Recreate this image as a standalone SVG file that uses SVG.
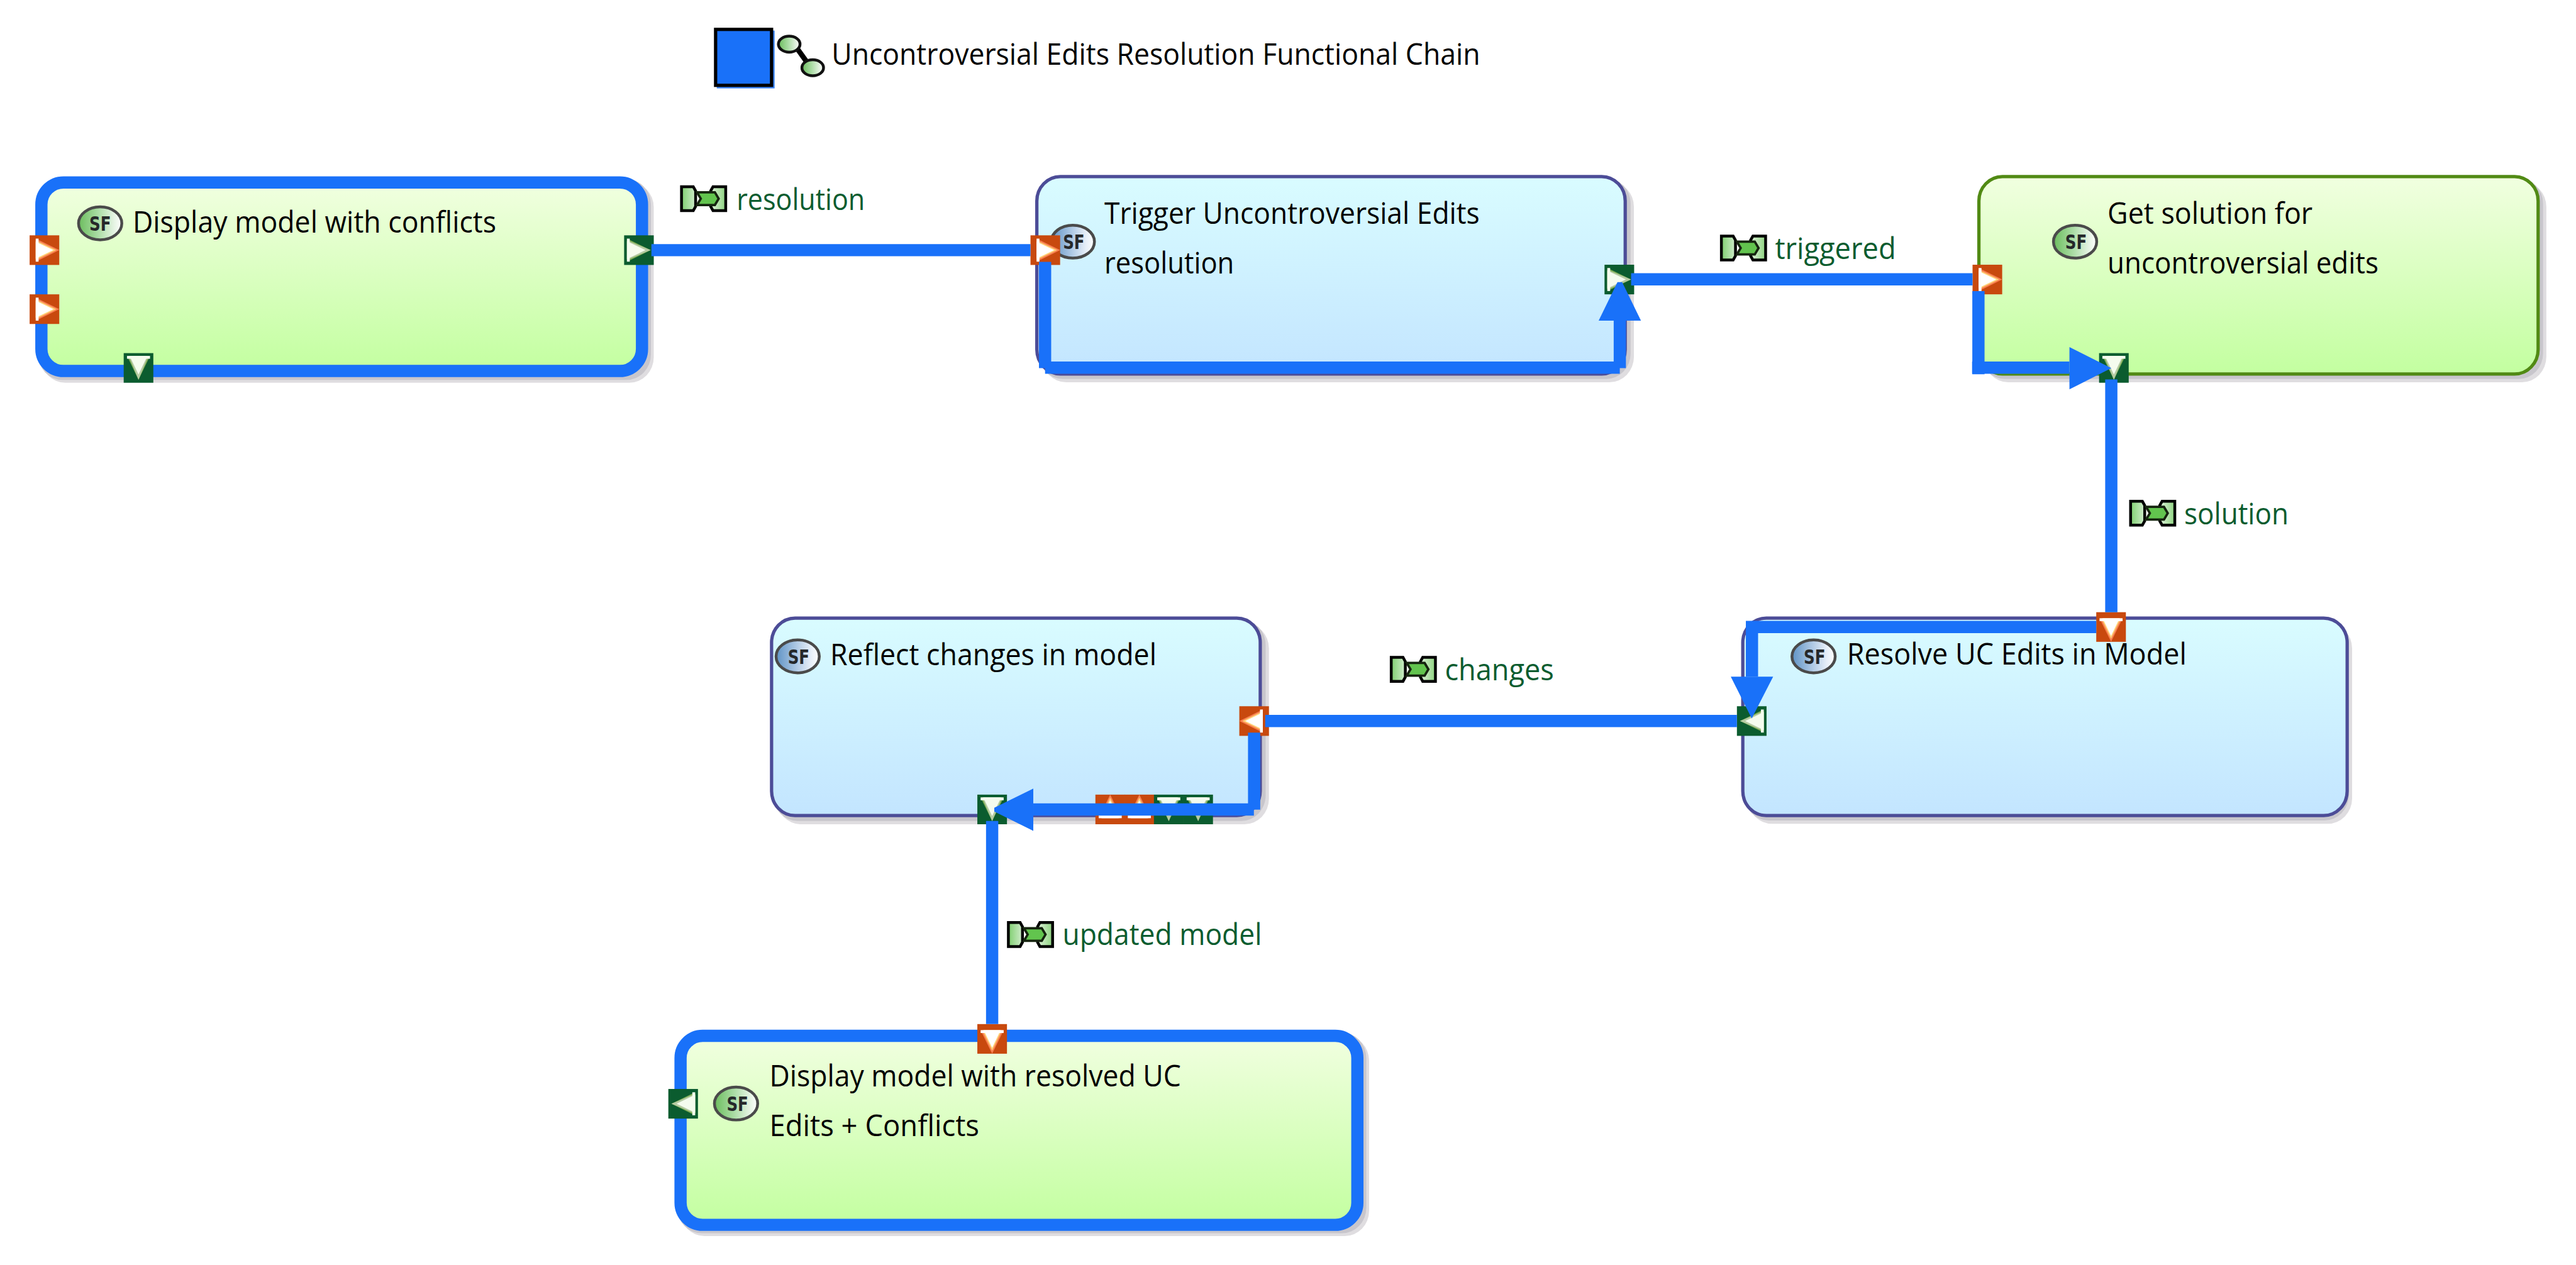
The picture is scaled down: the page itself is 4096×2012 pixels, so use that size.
<svg xmlns="http://www.w3.org/2000/svg" width="4096" height="2012" viewBox="0 0 4096 2012">
<style>
text{font-family:"Open Sans","Noto Sans","Liberation Sans",sans-serif;font-size:63px;font-weight:400;fill:#000}
.lbl{fill:#0b5c2f}
.sf{font-family:"DejaVu Sans",sans-serif;font-size:43px;font-weight:700;fill:#26282a}
.sh1{fill:#dfdde0;rx:52px;ry:54px}
.sh2{fill:#c8c6cc;rx:52px;ry:54px}
.blue{fill:url(#gb);stroke:#4c4c97;stroke-width:7;rx:50px;ry:52px}
.green{fill:url(#gg);stroke:#518a14;stroke-width:7;rx:50px;ry:52px}
.thick{fill:url(#gg);stroke:#1971f9;stroke-width:26;rx:47px;ry:47px}
.wire{fill:none;stroke:#1971f9;stroke-width:26;stroke-linecap:butt}
.head{fill:#1971f9}
</style>
<defs>
<linearGradient id="gb" x1="0" y1="0" x2="0" y2="1"><stop offset="0" stop-color="#d9fcff"/><stop offset="1" stop-color="#c3e5ff"/></linearGradient>
<linearGradient id="gg" x1="0" y1="0" x2="0" y2="1"><stop offset="0" stop-color="#f1ffe0"/><stop offset="1" stop-color="#c3ffa0"/></linearGradient>
<linearGradient id="ig" x1="0" y1="0" x2="1" y2="0"><stop offset="0" stop-color="#6cbd5e"/><stop offset=".45" stop-color="#aadca4"/><stop offset=".8" stop-color="#e2f2e0"/><stop offset="1" stop-color="#fff"/></linearGradient>
<linearGradient id="ib" x1="0" y1="0" x2="1" y2="0"><stop offset="0" stop-color="#5f93c5"/><stop offset=".45" stop-color="#abc6e3"/><stop offset=".8" stop-color="#e6eef8"/><stop offset="1" stop-color="#fff"/></linearGradient>
<linearGradient id="fl" x1="0" y1="0" x2="1" y2="0"><stop offset="0" stop-color="#7fcf70"/><stop offset="1" stop-color="#d0eccb"/></linearGradient>
<linearGradient id="fr" x1="0" y1="0" x2="1" y2="0"><stop offset="0" stop-color="#dff3db"/><stop offset="1" stop-color="#8dd37f"/></linearGradient>
<g id="po">
<rect x="-31.5" y="-31.5" width="63" height="63" fill="#c8490e"/>
<polygon points="-18.5,-24.5 31.5,0 -18.5,24.5" fill="#f98050"/>
<polygon points="-18.5,-21 25,0 -18.5,21" fill="#ffcf75"/>
<polygon points="-18.5,-18 19,0 -18.5,18" fill="#fff"/>
<rect x="-18.5" y="-24.5" width="6" height="49" fill="#fff"/>
</g>
<g id="pg">
<rect x="-31.5" y="-31.5" width="63" height="63" fill="#0b5c2f"/>
<polygon points="-25.5,-24.5 25,0 -25.5,24.5" fill="#7fae55"/>
<polygon points="-25.5,-21 25,0 -25.5,21" fill="#b5cba3"/>
<polygon points="-25.5,-19 14,0 -25.5,19" fill="#f5fcee"/>
<rect x="-25.5" y="-24.5" width="6" height="49" fill="#f5fcee"/>
</g>
<g id="ifl">
<polygon points="3,3 28,3 33,12 33,45 28,54 3,54" fill="url(#fl)" stroke="#000" stroke-width="6"/>
<polygon points="97,3 70,3 65,12 65,45 70,54 97,54" fill="url(#fr)" stroke="#000" stroke-width="6"/>
<polygon points="36,15 74,15 82,28.5 74,42 36,42 44,28.5" fill="#62c44e" stroke="#15240f" stroke-width="5"/>
</g>
<ellipse id="isg" rx="46" ry="35" fill="url(#ig)" stroke="#4a4a4a" stroke-width="6"/>
<ellipse id="isb" rx="46" ry="35" fill="url(#ib)" stroke="#4a4a4a" stroke-width="6"/>
</defs>
<rect width="4096" height="2012" fill="#fff"/>
<g transform="scale(0.74785)">

<g id="chain-title">
<rect x="1524" y="65" width="123" height="123" fill="#3a86fb"/>
<rect x="1521.5" y="62.5" width="119" height="119" fill="#1971f9" stroke="#000" stroke-width="7"/>
<line x1="1697" y1="106" x2="1714" y2="130" stroke="#000" stroke-width="11"/>
<ellipse cx="1678" cy="94" rx="23" ry="17" fill="url(#ig)" stroke="#111" stroke-width="6"/>
<ellipse cx="1728" cy="144" rx="23" ry="17" fill="url(#ig)" stroke="#111" stroke-width="6"/>
<text x="1768" y="138" textLength="1379" lengthAdjust="spacingAndGlyphs">Uncontroversial Edits Resolution Functional Chain</text>
</g>

<g id="node-display-conflicts">
<rect class="sh1" x="87" y="387" width="1303" height="427"/>
<rect class="sh2" x="81" y="381" width="1303" height="427"/>
<rect class="thick" x="88" y="388" width="1277" height="401"/>
<use href="#isg" x="213" y="475"/>
<text class="sf" x="213" y="491" text-anchor="middle" textLength="46" lengthAdjust="spacingAndGlyphs">SF</text>
<text x="282" y="495" textLength="773" lengthAdjust="spacingAndGlyphs">Display model with conflicts</text>
<use href="#po" transform="translate(94.5,532)"/>
<use href="#po" transform="translate(94.5,657.5)"/>
<use href="#pg" transform="translate(1358.5,532)"/>
<use href="#pg" transform="translate(294.5,782.5) rotate(90)"/>
</g>

<g id="node-trigger">
<rect class="sh1" x="2215" y="386" width="1259" height="427"/>
<rect class="sh2" x="2208" y="379" width="1259" height="427"/>
<rect class="blue" x="2204.5" y="375.5" width="1251" height="420"/>
<use href="#isb" x="2281" y="514"/>
<text class="sf" x="2283" y="530" text-anchor="middle" textLength="46" lengthAdjust="spacingAndGlyphs">SF</text>
<text x="2348" y="476" textLength="798" lengthAdjust="spacingAndGlyphs">Trigger Uncontroversial Edits</text>
<text x="2348" y="582" textLength="276" lengthAdjust="spacingAndGlyphs">resolution</text>
<use href="#po" transform="translate(2222.5,532)"/>
<use href="#pg" transform="translate(3443,594.5)"/>
</g>

<g id="node-get-solution">
<rect class="sh1" x="4218" y="386" width="1196" height="427"/>
<rect class="sh2" x="4211" y="379" width="1196" height="427"/>
<rect class="green" x="4207.5" y="375.5" width="1189" height="420"/>
<use href="#isg" x="4412" y="514"/>
<text class="sf" x="4414" y="530" text-anchor="middle" textLength="46" lengthAdjust="spacingAndGlyphs">SF</text>
<text x="4481" y="476" textLength="436" lengthAdjust="spacingAndGlyphs">Get solution for</text>
<text x="4481" y="582" textLength="576" lengthAdjust="spacingAndGlyphs">uncontroversial edits</text>
<use href="#po" transform="translate(4225.5,594.5)"/>
<use href="#pg" transform="translate(4494.5,782.5) rotate(90)"/>
</g>

<g id="node-resolve">
<rect class="sh1" x="3716" y="1325" width="1285" height="427"/>
<rect class="sh2" x="3709" y="1318" width="1285" height="427"/>
<rect class="blue" x="3705.5" y="1314.5" width="1285" height="420"/>
<use href="#isb" x="3856" y="1396"/>
<text class="sf" x="3858" y="1412" text-anchor="middle" textLength="46" lengthAdjust="spacingAndGlyphs">SF</text>
<text x="3927" y="1414" textLength="722" lengthAdjust="spacingAndGlyphs">Resolve UC Edits in Model</text>
<use href="#po" transform="translate(4488.5,1333.5) rotate(90)"/>
<use href="#pg" transform="translate(3724.5,1533.5) rotate(180)"/>
</g>

<g id="node-reflect">
<rect class="sh1" x="1651" y="1325" width="1047" height="428"/>
<rect class="sh2" x="1644" y="1318" width="1047" height="428"/>
<rect class="blue" x="1640.5" y="1314.5" width="1039" height="420"/>
<use href="#isb" x="1696" y="1396"/>
<text class="sf" x="1698" y="1412" text-anchor="middle" textLength="46" lengthAdjust="spacingAndGlyphs">SF</text>
<text x="1765" y="1415" textLength="694" lengthAdjust="spacingAndGlyphs">Reflect changes in model</text>
<use href="#po" transform="translate(2666.5,1533.5) rotate(180)"/>
<use href="#pg" transform="translate(2109.5,1721.5) rotate(90)"/>
<use href="#po" transform="translate(2360.5,1721.5) rotate(-90)"/>
<use href="#po" transform="translate(2422.5,1721.5) rotate(-90)"/>
<use href="#pg" transform="translate(2485,1721.5) rotate(90)"/>
<use href="#pg" transform="translate(2547.5,1721.5) rotate(90)"/>
</g>

<g id="node-display-resolved">
<rect class="sh1" x="1446" y="2202" width="1465" height="427"/>
<rect class="sh2" x="1440" y="2196" width="1465" height="427"/>
<rect class="thick" x="1447" y="2203" width="1439" height="402"/>
<use href="#isg" x="1565" y="2347"/>
<text class="sf" x="1568" y="2363" text-anchor="middle" textLength="46" lengthAdjust="spacingAndGlyphs">SF</text>
<text x="1636" y="2310" textLength="875" lengthAdjust="spacingAndGlyphs">Display model with resolved UC</text>
<text x="1636" y="2416" textLength="446" lengthAdjust="spacingAndGlyphs">Edits + Conflicts</text>
<use href="#po" transform="translate(2109.5,2209.5) rotate(90)"/>
<use href="#pg" transform="translate(1452.5,2347.5) rotate(180)"/>
</g>

<g id="connectors">
<g id="conn-resolution">
<path class="wire" d="M1385 532H2191M2222 557V783M2222 782H3444M3444 783V682"/>
<polygon class="head" points="3399,682 3489,682 3449,600 3439,600"/>
<use href="#ifl" x="1446" y="394"/>
<text class="lbl" x="1566" y="446" textLength="273" lengthAdjust="spacingAndGlyphs">resolution</text>
</g>
<g id="conn-triggered">
<path class="wire" d="M3468 594H4194M4206.5 619V796M4193 782H4400"/>
<polygon class="head" points="4400,738 4489,783 4400,828"/>
<use href="#ifl" x="3657" y="499"/>
<text class="lbl" x="3774" y="551" textLength="257" lengthAdjust="spacingAndGlyphs">triggered</text>
</g>
<g id="conn-solution">
<path class="wire" d="M4489 807V1302M4457 1333.5H3712M3725 1333V1439"/>
<polygon class="head" points="3680,1439 3770,1439 3724.5,1528"/>
<use href="#ifl" x="4527" y="1063"/>
<text class="lbl" x="4644" y="1115" textLength="222" lengthAdjust="spacingAndGlyphs">solution</text>
</g>
<g id="conn-changes">
<path class="wire" d="M3693 1533.5H2690M2666.5 1558V1722M2666 1721.5H2197"/>
<polygon class="head" points="2197,1677 2197,1767 2114,1726 2114,1718"/>
<use href="#ifl" x="2955" y="1395"/>
<text class="lbl" x="3072" y="1447" textLength="232" lengthAdjust="spacingAndGlyphs">changes</text>
</g>
<g id="conn-updated">
<path class="wire" d="M2109.5 1746V2178"/>
<use href="#ifl" x="2141" y="1959"/>
<text class="lbl" x="2259" y="2010" textLength="424" lengthAdjust="spacingAndGlyphs">updated model</text>
</g>
</g>
</g>
</svg>
